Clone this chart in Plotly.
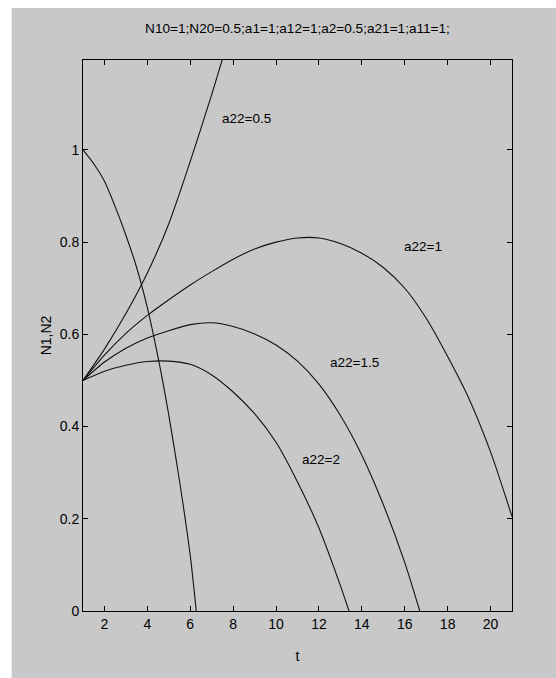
import plotly.graph_objects as go

# Population N1 (same for every a22 value)
t_n1 = [1.0, 1.5, 2.0, 2.5, 3.0, 3.5, 4.0, 4.5, 5.0, 5.5, 6.0, 6.28]
n1 = [1.0, 0.97, 0.932, 0.877, 0.815, 0.745, 0.658, 0.55, 0.425, 0.282, 0.12, 0.0]

# Population N2 for different self-limitation coefficients a22
t_a05 = [1, 2, 3, 4, 5, 6, 7, 7.55]
n2_a05 = [0.5, 0.568, 0.645, 0.733, 0.84, 0.975, 1.12, 1.205]

t_a10 = [1, 2, 3, 4, 5, 6, 7, 8, 9, 10, 11, 12, 13, 14, 15, 16, 17, 18, 19, 20, 21]
n2_a10 = [0.5, 0.555, 0.602, 0.641, 0.675, 0.707, 0.736, 0.763, 0.785, 0.800,
          0.809, 0.809, 0.797, 0.776, 0.745, 0.700, 0.635, 0.552, 0.46, 0.345, 0.205]

t_a15 = [1, 2, 3, 4, 5, 6, 7, 8, 9, 10, 11, 12, 13, 14, 15, 16, 16.7]
n2_a15 = [0.5, 0.54, 0.57, 0.592, 0.608, 0.621, 0.625, 0.617, 0.601, 0.577,
          0.542, 0.492, 0.424, 0.338, 0.231, 0.105, 0.0]

t_a20 = [1, 2, 3, 4, 5, 6, 7, 8, 9, 10, 11, 12, 13, 13.4]
n2_a20 = [0.5, 0.52, 0.533, 0.541, 0.542, 0.535, 0.512, 0.475, 0.428, 0.366,
          0.28, 0.18, 0.055, 0.0]

curve_labels = ["a22=0.5", "a22=1", "a22=1.5", "a22=2"]
label_t = [7.4, 15.86, 12.42, 11.12]
label_v = [1.069, 0.79, 0.538, 0.328]

x_ticks = [2, 4, 6, 8, 10, 12, 14, 16, 18, 20]
y_ticks = [0, 0.2, 0.4, 0.6, 0.8, 1]
y_tick_text = ["0", "0.2", "0.4", "0.6", "0.8", "1"]

title_text = "N10=1;N20=0.5;a1=1;a12=1;a2=0.5;a21=1;a11=1;"

FONT = "Liberation Sans, Arial, sans-serif"

fig = go.Figure()
line_style = dict(color="#111111", width=1.1, shape="spline", smoothing=0.7)
for tx, vy, name in [
    (t_n1, n1, "N1"),
    (t_a05, n2_a05, curve_labels[0]),
    (t_a10, n2_a10, curve_labels[1]),
    (t_a15, n2_a15, curve_labels[2]),
    (t_a20, n2_a20, curve_labels[3]),
]:
    fig.add_trace(go.Scatter(x=tx, y=vy, mode="lines", line=line_style,
                             name=name, showlegend=False))

for txt, tx, vy in zip(curve_labels, label_t, label_v):
    fig.add_annotation(x=tx, y=vy, text=txt, showarrow=False,
                       xanchor="left", yanchor="middle",
                       font=dict(family=FONT, size=13.5, color="black"))

# grey figure panel behind the axes
fig.add_shape(type="rect", xref="paper", yref="paper",
              x0=-0.1663, x1=1.2, y0=-0.2, y1=1.0944,
              fillcolor="#c8c8c8", line=dict(width=0), layer="below")

axis_common = dict(
    showgrid=False, zeroline=False, showline=True, linecolor="black",
    linewidth=1, mirror="allticks", ticks="inside", ticklen=5,
    tickcolor="black", tickwidth=1,
    tickfont=dict(family=FONT, size=14, color="black"),
)

fig.update_layout(
    width=556, height=678,
    margin=dict(l=82.5, r=43.5, t=60, b=67),
    paper_bgcolor="white", plot_bgcolor="white",
    title=dict(text=title_text, x=0.5, xref="paper", y=1 - 28 / 678,
               yanchor="middle",
               font=dict(family=FONT, size=13.6, color="black")),
    xaxis=dict(range=[1, 21], tickvals=x_ticks,
               title=dict(text="t", standoff=20,
                          font=dict(family=FONT, size=14, color="black")),
               **axis_common),
    yaxis=dict(range=[0, 1.195], tickvals=y_ticks, ticktext=y_tick_text,
               title=dict(text="N1,N2", standoff=4,
                          font=dict(family=FONT, size=14, color="black")),
               **axis_common),
)

fig.write_html("out.html")
